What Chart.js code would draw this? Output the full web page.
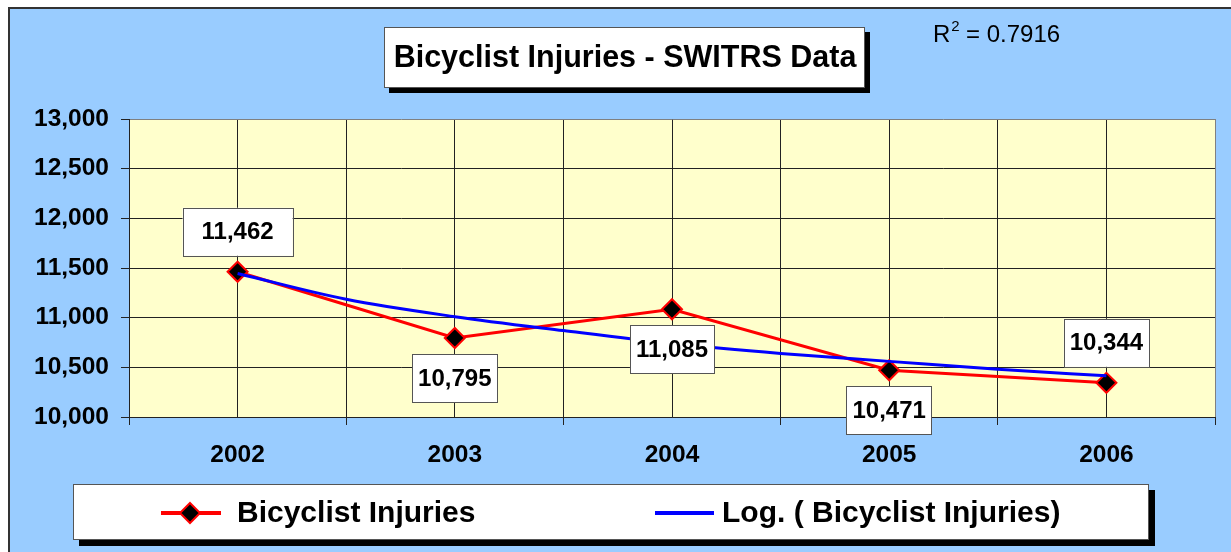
<!DOCTYPE html>
<html>
<head>
<meta charset="utf-8">
<script src="https://cdn.jsdelivr.net/npm/chart.js@4/dist/chart.umd.min.js"></script>
<style>
    html, body { margin: 0; padding: 0; background: #fff; }
    #wrap { width: 1231px; height: 552px; }
</style>
</head>
<body>
<div id="wrap"><canvas id="myChart" width="1231" height="552"></canvas></div>
<script>
// Chart values
const years = [2002, 2003, 2004, 2005, 2006];
const injuries = [11462, 10795, 11085, 10471, 10344];

// Logarithmic trendline at half-year steps
const trendYears = [2002, 2002.5, 2003, 2003.5, 2004, 2004.5, 2005, 2005.5, 2006];
const trendValues = [11445, 11185, 11010, 10870, 10740, 10640, 10560, 10480, 10415];

const rSquared = '0.7916';
const chartTitle = 'Bicyclist Injuries - SWITRS Data';
const seriesName = 'Bicyclist Injuries';
const trendName = 'Log. ( Bicyclist Injuries)';

// where each value label sits relative to its point
const labelSide = ['above', 'below', 'below', 'below', 'above'];

const FONT = 'Arial, "Liberation Sans", sans-serif';
Chart.defaults.font.family = FONT;
Chart.defaults.color = '#000';

// Draw a white box with a hard black drop shadow
function shadowBox(ctx, x, y, w, h, off) {
    ctx.fillStyle = '#000';
    ctx.fillRect(x + off, y + off, w, h);
    ctx.fillStyle = '#fff';
    ctx.fillRect(x, y, w, h);
    ctx.strokeStyle = '#555';
    ctx.lineWidth = 1;
    ctx.strokeRect(x + 0.5, y + 0.5, w - 1, h - 1);
}

// Page and plot area backgrounds
const backdrop = {
    id: 'backdrop',
    beforeDraw(chart) {
        const { ctx, chartArea: a, width, height } = chart;
        ctx.save();
        ctx.fillStyle = '#fff';
        ctx.fillRect(0, 0, width, height);
        ctx.fillStyle = '#99ccff';
        ctx.fillRect(8, 7, width - 8, height - 7);
        ctx.strokeStyle = '#333';
        ctx.lineWidth = 2;
        ctx.beginPath();
        ctx.moveTo(9, height);
        ctx.lineTo(9, 8);
        ctx.lineTo(width, 8);
        ctx.stroke();
        ctx.fillStyle = '#ffffcc';
        ctx.fillRect(a.left, a.top, a.right - a.left, a.bottom - a.top);
        ctx.restore();
    }
};

// Title box, R squared, legend and value labels
const decorations = {
    id: 'decorations',
    afterDatasetsDraw(chart) {
        const ctx = chart.ctx;
        ctx.save();

        // Title
        shadowBox(ctx, 384, 27, 481, 61, 5);
        ctx.fillStyle = '#000';
        ctx.font = 'bold 30.5px ' + FONT;
        ctx.textAlign = 'center';
        ctx.textBaseline = 'middle';
        ctx.fillText(chartTitle, 625, 59);

        // R squared
        ctx.textAlign = 'left';
        ctx.textBaseline = 'alphabetic';
        ctx.font = '24px ' + FONT;
        ctx.fillText('R', 933, 42);
        const rw = ctx.measureText('R').width;
        ctx.font = '15px ' + FONT;
        ctx.fillText('2', 933 + rw + 1, 31);
        ctx.font = '24px ' + FONT;
        ctx.fillText(' = ' + rSquared, 933 + rw + 9, 42);

        // Value labels
        const meta = chart.getDatasetMeta(0);
        ctx.font = 'bold 24px ' + FONT;
        ctx.textAlign = 'center';
        ctx.textBaseline = 'middle';
        meta.data.forEach((pt, i) => {
            const text = injuries[i].toLocaleString('en-US');
            const w = ctx.measureText(text).width + (i === 0 ? 38 : 12);
            const h = 48;
            const cy = labelSide[i] === 'above' ? pt.y - 40 : pt.y + 40;
            ctx.fillStyle = '#fff';
            ctx.fillRect(pt.x - w / 2, cy - h / 2, w, h);
            ctx.strokeStyle = '#555';
            ctx.lineWidth = 1;
            ctx.strokeRect(Math.round(pt.x - w / 2) + 0.5, Math.round(cy - h / 2) + 0.5, Math.round(w), h);
            ctx.fillStyle = '#000';
            ctx.fillText(text, pt.x, cy + 1);
        });

        // Legend
        shadowBox(ctx, 73, 484, 1076, 56, 6);
        const ly = 513;
        ctx.lineWidth = 4;
        ctx.strokeStyle = '#ff0000';
        ctx.beginPath();
        ctx.moveTo(161, ly);
        ctx.lineTo(221, ly);
        ctx.stroke();
        ctx.fillStyle = '#000';
        ctx.lineWidth = 2;
        ctx.beginPath();
        ctx.moveTo(190, ly - 10);
        ctx.lineTo(200, ly);
        ctx.lineTo(190, ly + 10);
        ctx.lineTo(180, ly);
        ctx.closePath();
        ctx.fill();
        ctx.stroke();
        ctx.strokeStyle = '#0000ff';
        ctx.lineWidth = 4;
        ctx.beginPath();
        ctx.moveTo(655, ly);
        ctx.lineTo(714, ly);
        ctx.stroke();
        ctx.font = 'bold 30px ' + FONT;
        ctx.textAlign = 'left';
        ctx.fillStyle = '#000';
        ctx.fillText(seriesName, 237, ly + 1);
        ctx.fillText(trendName, 722, ly + 1);

        ctx.restore();
    }
};

const ctx = document.getElementById('myChart').getContext('2d');

new Chart(ctx, {
    type: 'line',
    data: {
        datasets: [
            {
                label: seriesName,
                data: years.map((yr, i) => ({ x: yr, y: injuries[i] })),
                borderColor: '#ff0000',
                borderWidth: 3,
                pointStyle: 'rectRot',
                pointRadius: 10,
                pointBackgroundColor: '#000',
                pointBorderColor: '#ff0000',
                pointBorderWidth: 2,
                tension: 0,
                order: 1
            },
            {
                label: trendName,
                data: trendYears.map((yr, i) => ({ x: yr, y: trendValues[i] })),
                borderColor: '#0000ff',
                borderWidth: 3,
                pointRadius: 0,
                cubicInterpolationMode: 'monotone',
                order: 0
            }
        ]
    },
    options: {
        responsive: false,
        animation: false,
        layout: {
            padding: { left: 0, right: 16, top: 119, bottom: 75 }
        },
        plugins: {
            legend: { display: false },
            tooltip: { enabled: false }
        },
        scales: {
            x: {
                type: 'linear',
                min: 2001.5,
                max: 2006.5,
                afterFit: s => { s.height = 60; },
                ticks: {
                    stepSize: 0.5,
                    padding: 16,
                    maxRotation: 0,
                    autoSkip: false,
                    font: { size: 24.5, weight: 'bold' },
                    callback: v => Number.isInteger(v) ? String(v) : ''
                },
                grid: {
                    tickLength: 8,
                    color: c => c.tick && c.tick.value === 2006.5 ? '#808080' : '#222',
                    tickColor: c => c.tick && Number.isInteger(c.tick.value) ? 'rgba(0,0,0,0)' : '#222'
                },
                border: { color: '#222', width: 1 }
            },
            y: {
                min: 10000,
                max: 13000,
                afterFit: s => { s.width = 129; },
                ticks: {
                    stepSize: 500,
                    padding: 12,
                    font: { size: 24.5, weight: 'bold' },
                    callback: v => v.toLocaleString('en-US')
                },
                grid: {
                    tickLength: 8,
                    color: c => c.tick && c.tick.value === 13000 ? '#808080' : '#222',
                    tickColor: '#222'
                },
                border: { color: '#222', width: 1 }
            }
        }
    },
    plugins: [backdrop, decorations]
});
</script>
</body>
</html>
